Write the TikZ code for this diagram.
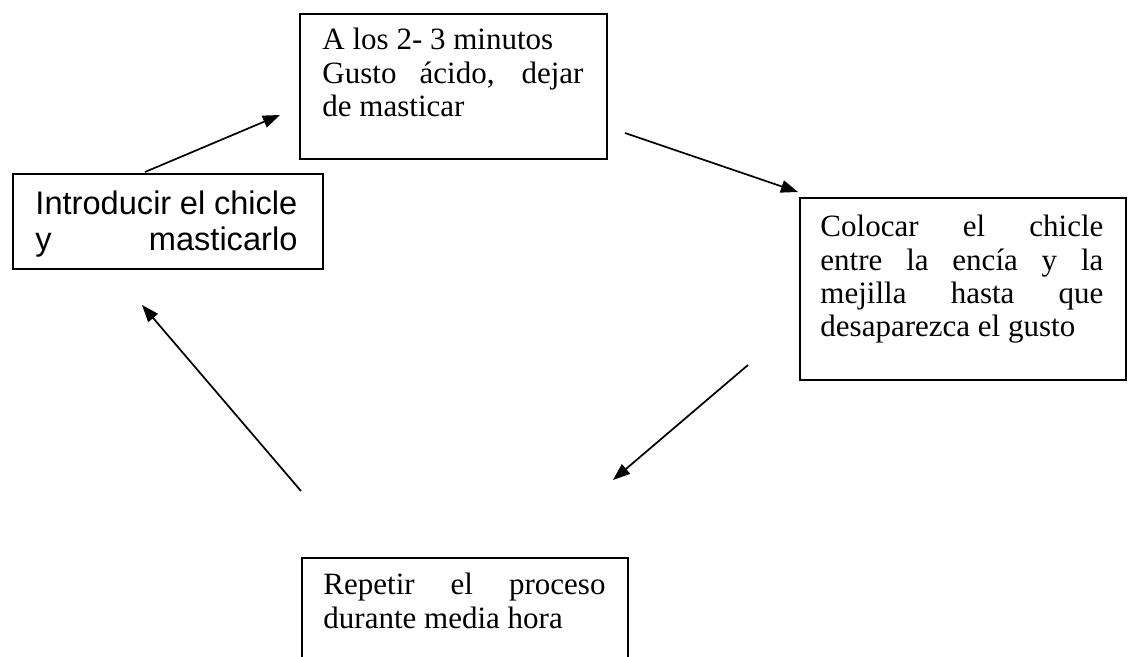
\documentclass[tikz,border=0pt]{standalone}
\usepackage{fontspec}
\setmainfont{Liberation Serif}
\setsansfont{Liberation Sans}
\usetikzlibrary{arrows.meta, positioning, calc}
\newcommand{\fullline}[1]{\makebox[\linewidth][s]{#1}\par}
\newcommand{\serifsize}{\fontsize{13.6}{14.6}\selectfont}
\newcommand{\sanssize}{\sffamily\fontsize{14.3}{15.4}\selectfont}

\begin{document}
\begin{tikzpicture}[
    x=0.4386pt, y=-0.4386pt,
    box/.style={draw, line width=0.75pt, anchor=north west, inner sep=0pt},
    boxtext/.style={anchor=base west, inner sep=0pt},
    flow/.style={-{Triangle[length=7.5pt, width=5.5pt]}, line width=0.75pt}
]
\useasboundingbox (0,0) rectangle (1129,657);
% Boxes
\node[box, minimum width=136pt, minimum height=41.7pt] (intro) at (12,173) {};
\node[box, minimum width=134.7pt, minimum height=63.6pt] (wait) at (299,13) {};
\node[box, minimum width=143pt, minimum height=79.8pt] (place) at (799,197) {};
\node[box, minimum width=143pt, minimum height=52.6pt] (repeat) at (301,557) {};
% Texts
\node[boxtext] (introtext) at (35,215)
  {\begin{minipage}[t]{114.9pt}\sanssize
   \fullline{Introducir el chicle}\fullline{y masticarlo}\end{minipage}};
\node[boxtext] (waittext) at (322,50)
  {\begin{minipage}[t]{114.5pt}\serifsize
   A los 2- 3 minutos\par \fullline{Gusto ácido, dejar}de masticar\end{minipage}};
\node[boxtext] (placetext) at (820,237)
  {\begin{minipage}[t]{124.1pt}\serifsize
   \fullline{Colocar el chicle}\fullline{entre la encía y la}%
   \fullline{mejilla hasta que}desaparezca el gusto\end{minipage}};
\node[boxtext] (repeattext) at (323,595)
  {\begin{minipage}[t]{123.7pt}\serifsize
   \fullline{Repetir el proceso}durante media hora\end{minipage}};
% Arrow ends
\coordinate (a1s) at (145,172);
\coordinate (a1e) at (280,115);
\coordinate (a2s) at (625,133);
\coordinate (a2e) at (798,192);
\coordinate (a3s) at (748,365);
\coordinate (a3e) at (613,480);
\coordinate (a4s) at (301,491);
\coordinate (a4e) at (142,305);
% Arrows
\draw[flow] (a1s) -- (a1e);
\draw[flow] (a2s) -- (a2e);
\draw[flow] (a3s) -- (a3e);
\draw[flow] (a4s) -- (a4e);
\end{tikzpicture}
\end{document}
